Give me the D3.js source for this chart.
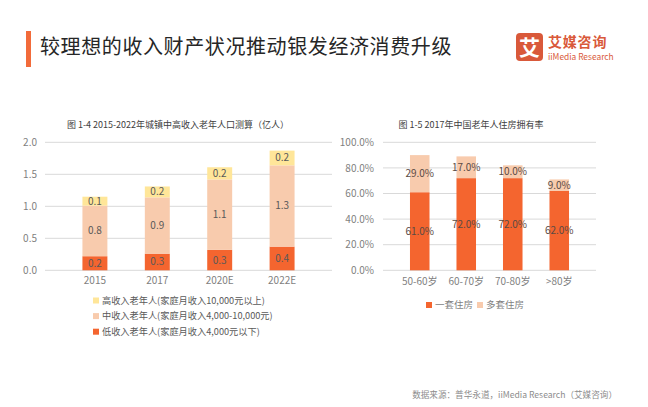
<!DOCTYPE html>
<html><head><meta charset="utf-8">
<script src="https://cdn.jsdelivr.net/npm/d3@7"></script>
<style>
html,body{margin:0;padding:0;background:#fff;}
svg{display:block;font-family:"Noto Sans CJK SC","Noto Sans",sans-serif;}
</style></head>
<body><svg id="c" width="648" height="407"></svg>
<script>
// ---- data ----
const years = ["2015","2017","2020E","2022E"];
const lowIncome = [0.22,0.26,0.32,0.37];
const midIncome = [0.79,0.88,1.10,1.27];
const highIncome = [0.14,0.17,0.19,0.23];
const leftTicks = [0,0.5,1.0,1.5,2.0];
const leftSeriesNames = ["高收入老年人(家庭月收入10,000元以上)","中收入老年人(家庭月收入4,000-10,000元)","低收入老年人(家庭月收入4,000元以下)"];

const ageGroups = ["50-60岁","60-70岁","70-80岁",">80岁"];
const oneHouse = [61,72,72,62];
const multiHouse = [29,17,10,9];
const rightTicks = [0,20,40,60,80,100];
const rightSeriesNames = ["一套住房","多套住房"];

const C_LOW = "#F4652F", C_MID = "#F8CBAD", C_HIGH = "#FFE699";
const GRID = "#D9D9D9", TXT = "#595959", AX = "#7F7F7F";

const svg = d3.select("#c");

// ---- header ----
svg.append("rect").attr("x",26).attr("y",31).attr("width",5).attr("height",36).attr("fill","#F26B3A");
svg.append("text").attr("x",40).attr("y",54).attr("font-size",20).attr("fill","#262626")
  .attr("letter-spacing","0.6").text("较理想的收入财产状况推动银发经济消费升级");
svg.append("rect").attr("x",516).attr("y",33).attr("width",27).attr("height",28).attr("rx",4).attr("fill","#D9593A");
svg.append("text").attr("x",529.5).attr("y",55).attr("text-anchor","middle").attr("font-size",21).attr("font-weight","bold").attr("fill","#fff").text("艾");
svg.append("text").attr("x",548).attr("y",47).attr("font-size",14).attr("font-weight","bold").attr("fill","#D9593A").attr("letter-spacing","0.8").text("艾媒咨询");
svg.append("text").attr("x",548).attr("y",60).attr("font-size",8.4).attr("fill","#D9593A").text("iiMedia Research");

// ---- left chart ----
const yL = d3.scaleLinear().domain([0,2]).range([270.3,142.3]);
const xL = d3.scaleBand().domain(years).range([45,332]).padding(0.6);
svg.append("text").attr("x",178).attr("y",128).attr("text-anchor","middle").attr("font-size",9).attr("fill","#404040")
  .text("图 1-4 2015-2022年城镇中高收入老年人口测算（亿人）");
svg.append("g").selectAll("line").data(leftTicks).join("line")
  .attr("x1",45).attr("x2",332).attr("y1",d=>yL(d)).attr("y2",d=>yL(d)).attr("stroke",GRID).attr("stroke-width",1);
const axL = svg.append("g").attr("transform","translate(37,0)")
  .call(d3.axisLeft(yL).tickValues(leftTicks).tickFormat(d3.format(".1f")).tickSize(0).tickPadding(0));
axL.select(".domain").remove();
axL.selectAll("text").attr("font-size",10).attr("fill",AX).attr("font-family","Noto Sans CJK SC");
const axLx = svg.append("g").attr("transform","translate(0,277)").call(d3.axisBottom(xL).tickSize(0).tickPadding(0));
axLx.select(".domain").remove();
axLx.selectAll("text").attr("font-size",10).attr("fill",AX).attr("font-family","Noto Sans CJK SC").attr("dy","0.71em");

const leftRows = years.map((y,i)=>({year:y, low:lowIncome[i], mid:midIncome[i], high:highIncome[i]}));
const stackL = d3.stack().keys(["low","mid","high"])(leftRows);
const colL = {low:C_LOW, mid:C_MID, high:C_HIGH};
stackL.forEach(s=>{
  const g = svg.append("g");
  g.selectAll("rect").data(s).join("rect")
    .attr("x",d=>xL(d.data.year)).attr("width",xL.bandwidth())
    .attr("y",d=>yL(d[1])).attr("height",d=>yL(d[0])-yL(d[1])).attr("fill",colL[s.key]);
  g.selectAll("text").data(s).join("text")
    .attr("x",d=>xL(d.data.year)+xL.bandwidth()/2).attr("y",d=>(yL(d[0])+yL(d[1]))/2)
    .attr("dy","0.35em").attr("text-anchor","middle").attr("font-size",10).attr("fill",TXT)
    .text(d=>(d[1]-d[0]).toFixed(1));
});
// left legend
const legL = svg.append("g");
const legLItems = [{n:leftSeriesNames[0],c:C_HIGH},{n:leftSeriesNames[1],c:C_MID},{n:leftSeriesNames[2],c:C_LOW}];
legL.selectAll("rect").data(legLItems).join("rect")
  .attr("x",93).attr("y",(d,i)=>297.5+i*15.6).attr("width",6).attr("height",6).attr("fill",d=>d.c);
legL.selectAll("text").data(legLItems).join("text")
  .attr("x",102).attr("y",(d,i)=>300.5+i*15.6).attr("dy","0.35em").attr("font-size",9.2).attr("fill",TXT).text(d=>d.n);

// ---- right chart ----
const yR = d3.scaleLinear().domain([0,100]).range([270.3,142.3]);
const xR = d3.scaleBand().domain(ageGroups).range([383,596]).padding(0.58);
svg.append("text").attr("x",471).attr("y",128).attr("text-anchor","middle").attr("font-size",9).attr("fill","#404040")
  .text("图 1-5 2017年中国老年人住房拥有率");
svg.append("g").selectAll("line").data(rightTicks).join("line")
  .attr("x1",383).attr("x2",596).attr("y1",d=>yR(d)).attr("y2",d=>yR(d)).attr("stroke",GRID).attr("stroke-width",1);
const axR = svg.append("g").attr("transform","translate(374,0)")
  .call(d3.axisLeft(yR).tickValues(rightTicks).tickFormat(d=>d.toFixed(1)+"%").tickSize(0).tickPadding(0));
axR.select(".domain").remove();
axR.selectAll("text").attr("font-size",10).attr("fill",AX).attr("font-family","Noto Sans CJK SC");
const axRx = svg.append("g").attr("transform","translate(0,278)").call(d3.axisBottom(xR).tickSize(0).tickPadding(0));
axRx.select(".domain").remove();
axRx.selectAll("text").attr("font-size",10).attr("fill",AX).attr("font-family","Noto Sans CJK SC").attr("dy","0.71em");

const rightRows = ageGroups.map((a,i)=>({age:a, one:oneHouse[i], multi:multiHouse[i]}));
const stackR = d3.stack().keys(["one","multi"])(rightRows);
const colR = {one:C_LOW, multi:C_MID};
stackR.forEach(s=>{
  const g = svg.append("g");
  g.selectAll("rect").data(s).join("rect")
    .attr("x",d=>xR(d.data.age)).attr("width",xR.bandwidth())
    .attr("y",d=>yR(d[1])).attr("height",d=>yR(d[0])-yR(d[1])).attr("fill",colR[s.key]);
  g.selectAll("text").data(s).join("text")
    .attr("x",d=>xR(d.data.age)+xR.bandwidth()/2)
    .attr("y",d=>(yR(d[0])+yR(d[1]))/2)
    .attr("dy","0.35em").attr("text-anchor","middle").attr("font-size",10).attr("fill","#5a4a44")
    .text(d=>(d[1]-d[0]).toFixed(1)+"%");
});
// right legend
const legRItems = [{n:rightSeriesNames[0],c:C_LOW},{n:rightSeriesNames[1],c:C_MID}];
const legR = svg.append("g");
legR.selectAll("rect").data(legRItems).join("rect")
  .attr("x",(d,i)=>426+i*51).attr("y",302).attr("width",6).attr("height",6).attr("fill",d=>d.c);
legR.selectAll("text").data(legRItems).join("text")
  .attr("x",(d,i)=>435+i*51).attr("y",305).attr("dy","0.35em").attr("font-size",9.5).attr("fill",AX).text(d=>d.n);

// source
svg.append("text").attr("x",617).attr("y",395).attr("dy","0.35em").attr("text-anchor","end").attr("font-size",8.6).attr("fill","#8c8c8c")
  .text("数据来源：普华永道，iiMedia Research（艾媒咨询）");
</script></body></html>
